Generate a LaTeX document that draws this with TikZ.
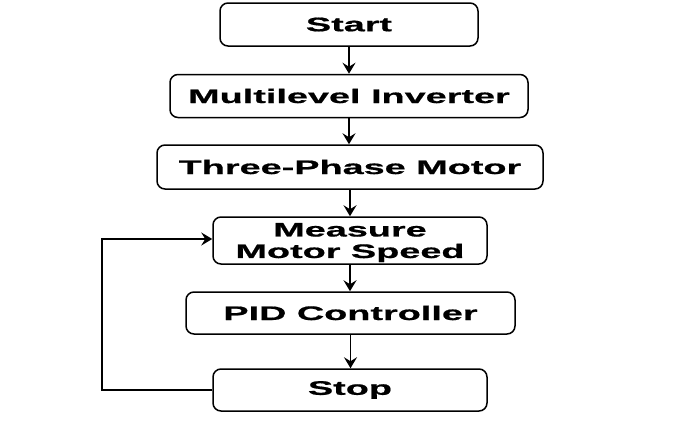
\documentclass[tikz,border=0pt]{standalone}
\usepackage{fontspec}
\newfontfamily\boxfont{Liberation Sans}[FakeStretch=1.93,FakeBold=0.8]
\usetikzlibrary{arrows.meta}
\begin{document}
\begin{tikzpicture}[x=1pt,y=-1pt,
  box/.style={draw, line width=1.5pt, rounded corners=8pt, fill=white,
    font=\boxfont\bfseries\fontsize{19.6}{21.5}\selectfont, align=center,
    inner sep=0pt},
  arr/.style={line width=1.6pt, -{Stealth[length=11pt,width=13pt,inset=4pt]}}]
\useasboundingbox (0,0) rectangle (700,442);
\node[box, minimum width=258pt, minimum height=43pt] (start) at (349,24.5) {Start};
\node[box, minimum width=358pt, minimum height=43pt] (mi) at (349,96) {Multilevel Inverter};
\node[box, minimum width=386pt, minimum height=44pt] (tpm) at (350,167) {Three-Phase Motor};
\node[box, minimum width=274pt, minimum height=47pt, text depth=0pt] (mms) at (350,240.5) {Measure\\Motor Speed};
\node[box, minimum width=329pt, minimum height=42pt] (pid) at (350.5,313) {PID Controller};
\node[box, minimum width=274pt, minimum height=42pt] (stop) at (350,390) {Stop};
\draw[arr] (start.south) -- (start.south |- mi.north);
\draw[arr] (mi.south) -- (mi.south |- tpm.north);
\draw[arr] (tpm.south) -- (tpm.south |- mms.north);
\draw[arr] (mms.south) -- (mms.south |- pid.north);
\draw[arr] (pid.south) -- (pid.south |- stop.north);
\coordinate (fb) at (102,390);
\draw[arr] (stop.west) -- (fb) |- ([yshift=1.5pt]mms.west);
\end{tikzpicture}
\end{document}
